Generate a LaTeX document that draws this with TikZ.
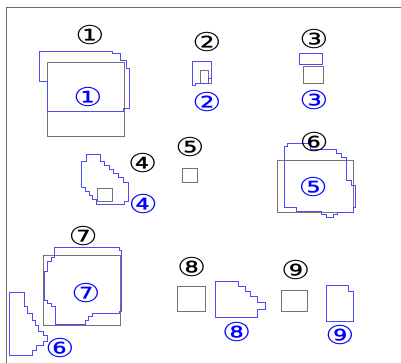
\documentclass[tikz,border=0pt]{standalone}
\usepackage{fontspec}
\newfontfamily\cerchio{DejaVu Sans}
\usetikzlibrary{positioning}

\tikzset{
  cornice/.style={draw=gray!85!black, line width=0.8pt},
  prima/.style={draw=gray!90!black, line width=0.7pt},
  dopo/.style={draw=blue!70!white, line width=0.7pt},
  num/.style={font=\cerchio\fontsize{26}{26}\selectfont, inner sep=0pt, xscale=1.25, transform shape},
  numblu/.style={num, text=blue},
}

\begin{document}
\begin{tikzpicture}[x=1pt, y=-1pt]
  \useasboundingbox (0,0) rectangle (401,363);
  % cornice
  \draw[cornice] (401,7) -- (6,7) -- (6,363);

  % forme grigie
  \draw[prima] (47.3,62.7) rectangle (124.3,136.7);
  \draw[prima] (200.7,70) -- (208.3,70) -- (208.3,78.3) -- (211.7,78.3) -- (211.7,83.3) -- (200.7,83.3) -- cycle;
  \draw[prima] (303.3,66) rectangle (323.3,83.3);
  \draw[prima] (97.7,188.3) rectangle (112.3,201.7);
  \draw[prima] (182,168) rectangle (197,182);
  \draw[prima] (277.3,160.7) rectangle (353.3,212.3);
  \draw[prima] (43.3,255.7) rectangle (120,325);
  \draw[prima] (177.3,286) rectangle (205,311.7);
  \draw[prima] (281,290.7) rectangle (307.7,311);

  % forme blu
  \draw[dopo] (39.3,51) -- (112.3,51) -- (112.3,53.3) -- (120,53.3) -- (120,60.7) -- (126.7,60.7)
    -- (126.7,68.3) -- (129.3,68.3) -- (129.3,108.3) -- (123.3,108.3) -- (123.3,111) -- (47.3,111)
    -- (47.3,81.7) -- (39.3,81.7) -- cycle;
  \draw[dopo] (192.3,61.7) -- (211.7,61.7) -- (211.7,78.3) -- (208.3,78.3) -- (208.3,83.3)
    -- (195.7,83.3) -- (195.7,85.7) -- (192.3,85.7) -- cycle;
  \draw[dopo] (299.3,53.3) rectangle (322.7,64.3);
  \draw[dopo] (86,154) -- (100,154) -- (100,161) -- (104,161) -- (104,165) -- (109,165) -- (109,169)
    -- (113,169) -- (113,173) -- (118,173) -- (118,177) -- (123,177) -- (123,182.3) -- (128.3,182.3)
    -- (128.3,201.7) -- (124,201.7) -- (124,204) -- (96.7,204) -- (96.7,199) -- (92.7,199)
    -- (92.7,195) -- (89.3,195) -- (89.3,191) -- (85,191) -- (85,187) -- (81.7,187)
    -- (81.7,161.7) -- (86,161.7) -- cycle;
  \draw[dopo] (284.3,146.7) -- (287.7,146.7) -- (287.7,143.3) -- (310,143.3) -- (310,149)
    -- (336.7,149) -- (336.7,153.3) -- (341.7,153.3) -- (341.7,157.3) -- (346,157.3) -- (346,180)
    -- (351,180) -- (351,185) -- (355.5,185) -- (355.5,207.5) -- (353.3,207.5) -- (353.3,212.3)
    -- (337,212.3) -- (337,214.3) -- (333.3,214.3) -- (333.3,217.7) -- (326,217.7) -- (326,214.3)
    -- (321.7,214.3) -- (321.7,211.7) -- (296,211.7) -- (296,207.7) -- (284.3,207.7) -- cycle;
  \draw[dopo] (54,247.7) -- (119.3,247.7) -- (119.3,250) -- (121.7,250) -- (121.7,311)
    -- (119.3,311) -- (119.3,313.3) -- (92.7,313.3) -- (92.7,316.7) -- (88.3,316.7) -- (88.3,320)
    -- (85,320) -- (85,324.3) -- (55,324.3) -- (55,306.7) -- (51.7,306.7) -- (51.7,303.3)
    -- (47.3,303.3) -- (47.3,300) -- (44,300) -- (44,271.7) -- (47.3,271.7) -- (47.3,261.7)
    -- (51,261.7) -- (51,257.3) -- (54,257.3) -- cycle;
  \draw[dopo] (9.5,292) -- (24,292) -- (24,306.7) -- (27.7,306.7) -- (27.7,313.3) -- (32.3,313.3)
    -- (32.3,320) -- (35.7,320) -- (35.7,325) -- (38,325) -- (38,331.7) -- (43.3,331.7)
    -- (43.3,335) -- (47.3,335) -- (47.3,341.7) -- (43.3,341.7) -- (43.3,345) -- (36,345)
    -- (36,350) -- (32.3,350) -- (32.3,355.7) -- (9.5,355.7) -- cycle;
  \draw[dopo] (215,281) -- (238.3,281) -- (238.3,286) -- (245.7,286) -- (245.7,291) -- (250,291)
    -- (250,296) -- (257.3,296) -- (257.3,302.7) -- (265,302.7) -- (265,309.3) -- (257.3,309.3)
    -- (257.3,317.3) -- (215,317.3) -- cycle;
  \draw[dopo] (326.7,285.7) -- (348.3,285.7) -- (348.3,291.7) -- (353.3,291.7) -- (353.3,321)
    -- (326.7,321) -- cycle;

  % numeri neri
  \node[num] (n1) at (90,35) {①};
  \node[num] (n2) at (207,42) {②};
  \node[num] (n3) at (314,39) {③};
  \node[num] (n4) at (142.7,163.3) {④};
  \node[num] (n5) at (190,146.7) {⑤};
  \node[num] (n6) at (314.3,142.3) {⑥};
  \node[num] (n7) at (83.3,236) {⑦};
  \node[num] (n8) at (191.7,267.3) {⑧};
  \node[num] (n9) at (295.7,270) {⑨};

  % numeri blu
  \node[numblu] (m1) at (88,97) {①};
  \node[numblu] (m2) at (207,102) {②};
  \node[numblu] (m3) at (314,100) {③};
  \node[numblu] (m4) at (143.3,204) {④};
  \node[numblu] (m5) at (313.3,186.7) {⑤};
  \node[numblu] (m6) at (60,348) {⑥};
  \node[numblu] (m7) at (86,293.3) {⑦};
  \node[numblu] (m8) at (236.7,331.7) {⑧};
  \node[numblu] (m9) at (340,335) {⑨};
\end{tikzpicture}
\end{document}
